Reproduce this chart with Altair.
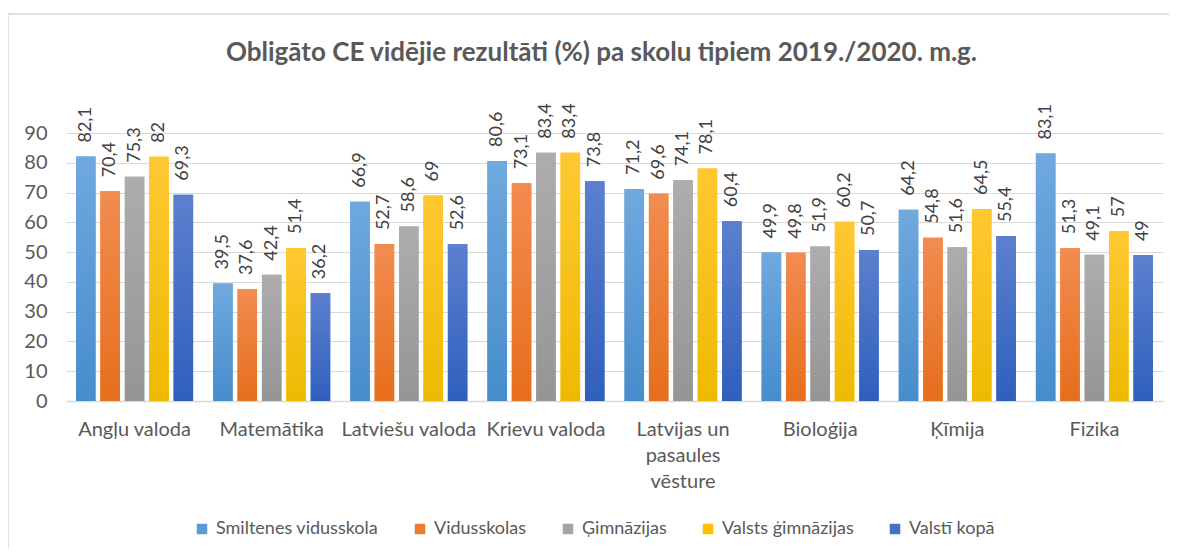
import altair as alt
import pandas as pd

categories = ["Angļu valoda", "Matemātika", "Latviešu valoda", "Krievu valoda",
              "Latvijas un\npasaules\nvēsture", "Bioloģija", "Ķīmija", "Fizika"]
series = ["Smiltenes vidusskola", "Vidusskolas", "Ģimnāzijas", "Valsts ģimnāzijas", "Valstī kopā"]
colors = ["#5B9BD5", "#ED7D31", "#A5A5A5", "#FFC000", "#4472C4"]
top_colors = ["#6FA9DE", "#F28C50", "#ADADAD", "#FFC833", "#5C80CE"]
bottom_colors = ["#478CCC", "#E66E1C", "#959595", "#EEBA00", "#2F5FBD"]

smiltenes = [82.1, 39.5, 66.9, 80.6, 71.2, 49.9, 64.2, 83.1]
vidusskolas = [70.4, 37.6, 52.7, 73.1, 69.6, 49.8, 54.8, 51.3]
gimnazijas = [75.3, 42.4, 58.6, 83.4, 74.1, 51.9, 51.6, 49.1]
valsts_gimn = [82, 51.4, 69, 83.4, 78.1, 60.2, 64.5, 57]
valsti_kopa = [69.3, 36.2, 52.6, 73.8, 60.4, 50.7, 55.4, 49]
y_ticks = [0, 10, 20, 30, 40, 50, 60, 70, 80, 90]

values = [smiltenes, vidusskolas, gimnazijas, valsts_gimn, valsti_kopa]
rows = []
for s, vals in zip(series, values):
    for c, v in zip(categories, vals):
        rows.append({"cat": c, "series": s, "value": v,
                     "label": f"{v:g}".replace(".", ",")})
df = pd.DataFrame(rows)

FONT = "Lato"
W, H = 1097, 268

x_enc = alt.X("cat:N", sort=categories, title=None,
              scale=alt.Scale(paddingInner=0.146, paddingOuter=0.073),
              axis=alt.Axis(labelAngle=0, labelFontSize=20, labelColor="#595959",
                            labelFont=FONT, labelPadding=18, ticks=False,
                            domainColor="#D9D9D9", domainWidth=1.5,
                            labelExpr="split(datum.value, '\\n')",
                            labelLineHeight=26, labelBaseline="top"))
xo_enc = alt.XOffset("series:N", sort=series,
                     scale=alt.Scale(domain=series, paddingInner=0.2, paddingOuter=0))
y_enc = alt.Y("value:Q", title=None,
              scale=alt.Scale(domain=[0, 90], nice=False),
              axis=alt.Axis(values=y_ticks, labelFontSize=20, labelColor="#595959",
                            labelFont=FONT, labelPadding=19, ticks=False, domain=False,
                            labelOverlap=False,
                            gridColor="#D9D9D9", gridWidth=1.2))

base = alt.Chart(df).encode(x=x_enc, xOffset=xo_enc, y=y_enc)

bars = base.mark_bar().encode(
    color=alt.Color("series:N", sort=series,
                    scale=alt.Scale(domain=series, range=colors),
                    legend=alt.Legend(title=None, orient="none", direction="horizontal",
                                      legendX=127, legendY=387,
                                      symbolType="square", symbolSize=110,
                                      symbolStrokeWidth=0,
                                      labelFontSize=18, labelColor="#595959",
                                      labelFont=FONT, columnPadding=32,
                                      labelOffset=5, labelLimit=400)),
)

grad_layers = []
for s, c_top, c_bot in zip(series, top_colors, bottom_colors):
    grad = alt.Gradient(gradient="linear", x1=0, y1=0, x2=0, y2=1,
                        stops=[alt.GradientStop(offset=0, color=c_top),
                               alt.GradientStop(offset=1, color=c_bot)])
    grad_layers.append(
        base.transform_filter(alt.datum.series == s).mark_bar(color=grad)
    )

labels = base.mark_text(angle=270, align="left", baseline="middle", dx=14,
                        fontSize=18, font=FONT, color="#404040").encode(text="label:N")

border = alt.Chart(pd.DataFrame({"a": [0]})).mark_rect(
    fill=None, stroke="#D9D9D9", strokeWidth=1.5).encode(
    x=alt.value(-58), x2=alt.value(1300), y=alt.value(-119), y2=alt.value(600))

chart = alt.layer(border, bars, *grad_layers, labels).properties(
    width=W, height=H,
    title=alt.TitleParams("Obligāto CE vidējie rezultāti (%) pa skolu tipiem 2019./2020. m.g.",
                          font=FONT, fontSize=26, fontWeight="bold", color="#595959",
                          anchor="middle", frame="group", dx=-13, offset=-53),
    autosize=alt.AutoSizeParams(type="none"),
    padding={"left": 58, "top": 125, "right": 6, "bottom": 147},
).configure_view(stroke=None)

chart.save("out.html", embed_options={"renderer": "svg", "actions": False})
